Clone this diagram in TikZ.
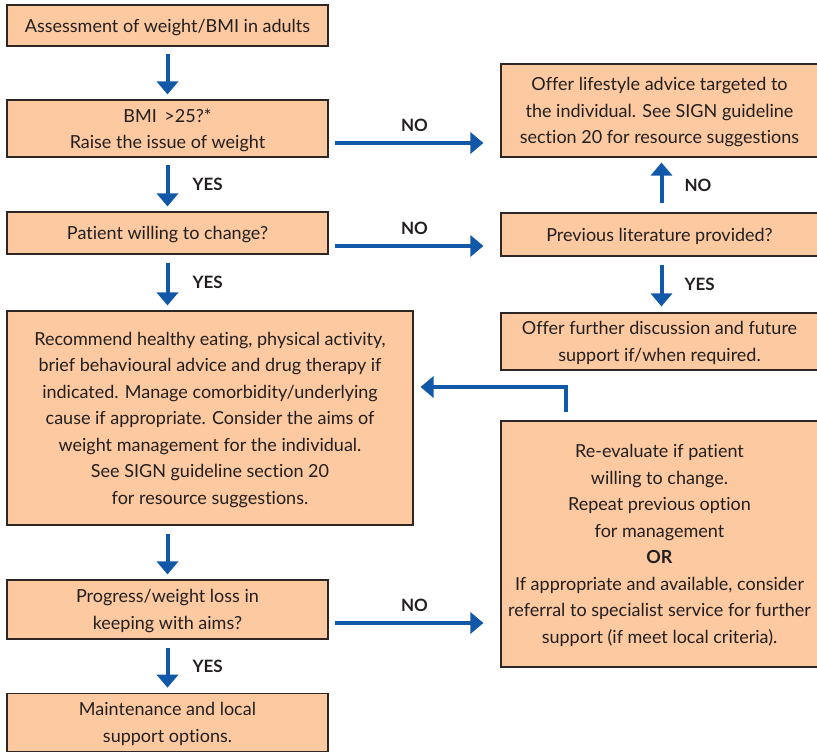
\documentclass[tikz,border=0pt]{standalone}
\usepackage{fontspec}
\setmainfont{Lato}[Ligatures=CommonOff]
\usetikzlibrary{arrows.meta}
\definecolor{boxfill}{RGB}{252,201,160}
\definecolor{boxline}{RGB}{45,38,35}
\definecolor{arrblue}{RGB}{18,88,168}
\definecolor{txt}{RGB}{35,31,32}
\tikzset{
  box/.style={draw=boxline, fill=boxfill, line width=1.1pt, align=center, inner sep=0pt, text depth=-5pt, text=txt, font=\fontsize{18}{26.5}\selectfont},
  arr/.style={draw=arrblue, line width=4pt, -{Triangle[width=21pt,length=13pt]}, shorten <=7pt, shorten >=5pt},
  lbl/.style={font=\fontsize{17}{18}\selectfont\bfseries, text=txt, inner sep=0pt}
}
\begin{document}
\begin{tikzpicture}[x=1pt,y=1pt]
\useasboundingbox (0,0) rectangle (817,-752);
\node[box, minimum width=321pt, minimum height=41pt] (assess) at (167.5,-25.5) {Assessment of weight/BMI in adults};
\node[box, minimum width=321pt, minimum height=57pt] (bmi) at (167.5,-128.5) {BMI \,>25?*\\Raise the issue of weight};
\node[box, minimum width=321pt, minimum height=42pt] (willing) at (167.5,-233) {Patient willing to change?};
\node[box, minimum width=406pt, minimum height=214pt] (recommend) at (210,-418) {Recommend healthy eating, physical activity,\\brief behavioural advice and drug therapy if\\indicated. Manage comorbidity/underlying\\cause if appropriate. Consider the aims of\\weight management for the individual.\\See SIGN guideline section 20\\for resource suggestions.};
\node[box, minimum width=321pt, minimum height=59pt] (progress) at (167.5,-609.5) {Progress/weight loss in\\keeping with aims?};
\node[box, minimum width=321pt, minimum height=58.5pt] (maintain) at (167.5,-722.5) {Maintenance and local\\support options.};
\node[box, minimum width=317pt, minimum height=93pt] (lifestyle) at (659.5,-110.5) {Offer lifestyle advice targeted to\\the individual. See SIGN guideline\\section 20 for resource suggestions};
\node[box, minimum width=317pt, minimum height=43pt] (literature) at (659.5,-234.5) {Previous literature provided?};
\node[box, minimum width=317pt, minimum height=57pt] (further) at (659.5,-341.5) {Offer further discussion and future\\support if/when required.};
\node[box, minimum width=317pt, minimum height=246pt] (reeval) at (659.5,-544) {Re-evaluate if patient\\willing to change.\\Repeat previous option\\for management\\\textbf{OR}\\If appropriate and available, consider\\referral to specialist service for further\\support (if meet local criteria).};

\draw[arr] (assess) -- (bmi);
\draw[arr] (bmi) -- (willing) node[lbl, midway, right=23pt] {YES};
\draw[arr, shorten <=8pt] (willing.south) -- (willing.south |- recommend.north) node[lbl, midway, right=23pt] {YES};
\draw[arr, shorten <=8pt] (recommend.south -| progress.south) -- (progress.north);
\draw[arr, shorten <=8pt] (progress) -- (maintain) node[lbl, midway, right=23pt] {YES};
\draw[arr, shorten <=6pt, shorten >=17pt] ([yshift=-14.5pt]bmi.east) -- ([yshift=-14.5pt]bmi.east -| lifestyle.west) node[lbl, midway, above=9pt] {NO};
\draw[arr, shorten <=6pt, shorten >=17pt] ([yshift=-13pt]willing.east) -- ([yshift=-13pt]willing.east -| literature.west) node[lbl, midway, above=9pt] {NO};
\draw[arr, shorten <=6pt, shorten >=17pt] ([yshift=-13.5pt]progress.east) -- ([yshift=-13.5pt]progress.east -| reeval.west) node[lbl, midway, above=9pt] {NO};
\draw[arr, shorten <=9pt] ([xshift=2pt]literature.north) -- ([xshift=2pt]lifestyle.south) node[lbl, midway, right=21pt] {NO};
\draw[arr, shorten <=8pt, shorten >=6pt] ([xshift=2pt]literature.south) -- ([xshift=2pt]further.north) node[lbl, midway, right=21pt] {YES};
\draw[arr, shorten <=8pt, shorten >=7pt] ([xshift=-93.5pt]reeval.north) |- ([yshift=31pt]recommend.east);
\end{tikzpicture}
\end{document}
